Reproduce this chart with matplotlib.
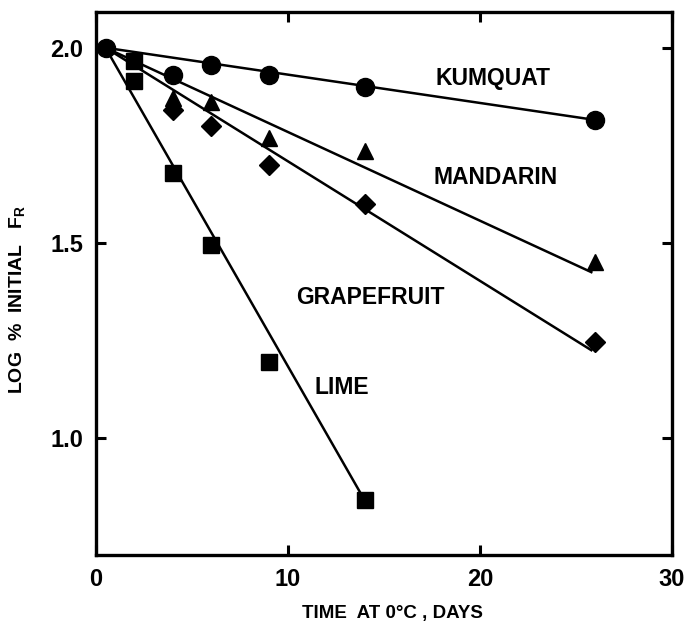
import matplotlib
matplotlib.use("Agg")
import matplotlib.pyplot as plt

plt.rcParams['font.family'] = ['Liberation Sans', 'DejaVu Sans']
plt.rcParams['font.weight'] = 'bold'

# data
kum_x = [0.5, 4, 6, 9, 14, 26]
kum_y = [2.0, 1.93, 1.955, 1.93, 1.90, 1.815]
man_x = [4, 6, 9, 14, 26]
man_y = [1.87, 1.86, 1.77, 1.735, 1.45]
grape_x = [4, 6, 9, 14, 26]
grape_y = [1.84, 1.80, 1.70, 1.60, 1.245]
lime_x = [2, 2, 4, 6, 9, 14]
lime_y = [1.965, 1.915, 1.68, 1.495, 1.195, 0.84]

# fitted lines (start / end points)
fit_x0 = [0.5, 0.5, 0.5, 0.5]
fit_y0 = [2.0, 2.0, 2.0, 2.0]
fit_x1 = [26, 25.8, 25.8, 14]
fit_y1 = [1.815, 1.425, 1.225, 0.84]

names = ['KUMQUAT', 'MANDARIN', 'GRAPEFRUIT', 'LIME']
name_x = [20.7, 20.8, 14.3, 12.8]
name_y = [1.92, 1.667, 1.36, 1.13]

fig = plt.figure(figsize=(6.85, 6.23), dpi=100)
ax = fig.add_axes([0.140, 0.109, 0.841, 0.872])

for i in range(4):
    ax.plot([fit_x0[i], fit_x1[i]], [fit_y0[i], fit_y1[i]], color='black', lw=1.8, zorder=2)

ax.plot(kum_x, kum_y, 'o', color='black', ms=13, ls='none', zorder=3)
ax.plot(man_x, man_y, '^', color='black', ms=11, ls='none', zorder=3)
ax.plot(grape_x, grape_y, 'D', color='black', ms=10, ls='none', zorder=3)
ax.plot(lime_x, lime_y, 's', color='black', ms=12, ls='none', zorder=3)

for n, x, y in zip(names, name_x, name_y):
    ax.text(x, y, n, ha='center', va='center', fontsize=16.5, fontweight='bold')

ax.set_xlim(0, 30)
ax.set_ylim(0.70, 2.092)
ax.set_xticks([0, 10, 20, 30])
ax.set_xticklabels(['0', '10', '20', '30'])
ax.set_yticks([1.0, 1.5, 2.0])
ax.set_yticklabels(['1.0', '1.5', '2.0'])
ax.tick_params(direction='in', length=7, width=2.2, labelsize=17, top=True, right=True, pad=9)
for lab in ax.get_xticklabels() + ax.get_yticklabels():
    lab.set_fontweight('bold')
for s in ax.spines.values():
    s.set_linewidth(2.4)

ax.set_xlabel('TIME  AT 0°C , DAYS', fontsize=13.5, fontweight='bold')
ax.set_ylabel('LOG  %  INITIAL   F$_\\mathregular{R}$', fontsize=14, fontweight='bold')
ax.xaxis.set_label_coords(0.514, -0.092)
ax.yaxis.set_label_coords(-0.118, 0.47)

fig.savefig('out.png', dpi=100)
